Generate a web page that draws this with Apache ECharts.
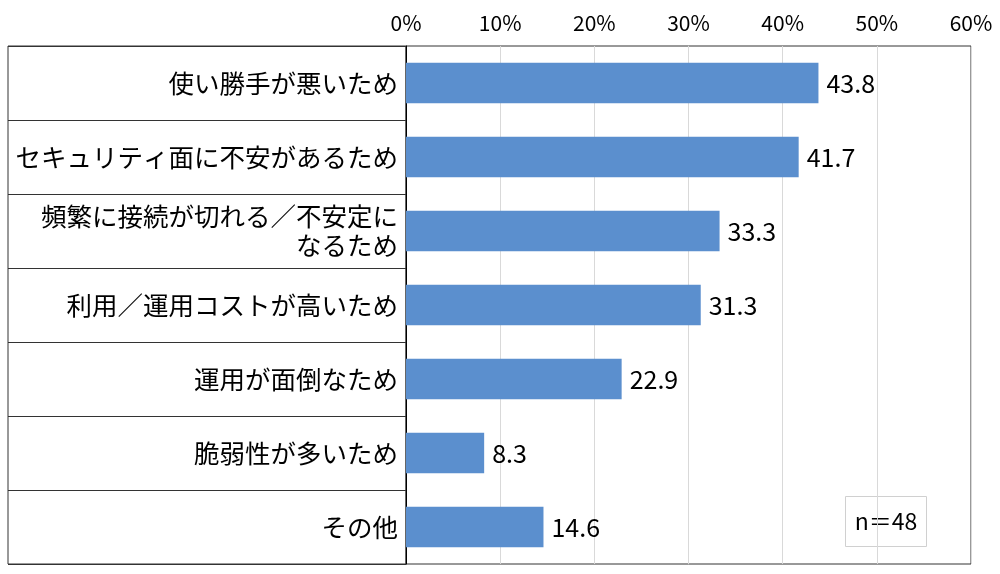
<!DOCTYPE html>
<html>
<head>
<meta charset="utf-8">
<script src="https://cdn.jsdelivr.net/npm/echarts@6/dist/echarts.min.js"></script>
<style>
  html, body { margin: 0; padding: 0; background: #fff; }
  #main { width: 1000px; height: 574px; }
</style>
</head>
<body>
<div id="main"></div>
<script>
var categories = [
  '使い勝手が悪いため',
  'セキュリティ面に不安があるため',
  '頻繁に接続が切れる／不安定に\nなるため',
  '利用／運用コストが高いため',
  '運用が面倒なため',
  '脆弱性が多いため',
  'その他'
];
var values = [43.8, 41.7, 33.3, 31.3, 22.9, 8.3, 14.6];
var axisMax = 60;
var axisStep = 10;
var sampleNote = 'n＝48';

var myChart = echarts.init(document.getElementById('main'));
var font = '"Noto Sans CJK JP", "Noto Sans", sans-serif';

var option = {
  animation: false,
  textStyle: { fontFamily: font },
  grid: [
    { left: 406, right: 29, top: 46, bottom: 10, show: true, borderColor: '#333', borderWidth: 1 },
    { left: 8, width: 398, top: 46, bottom: 10, show: true, borderColor: '#333', borderWidth: 1 }
  ],
  xAxis: [
    {
      gridIndex: 0,
      type: 'value',
      position: 'top',
      min: 0,
      max: axisMax,
      interval: axisStep,
      axisLine: { show: false },
      axisTick: { show: false },
      axisLabel: { formatter: '{value}%', fontSize: 21, color: '#000', margin: 12, fontFamily: font },
      splitLine: { show: true, lineStyle: { color: '#d9d9d9', width: 1 } }
    },
    { gridIndex: 1, type: 'value', show: false }
  ],
  yAxis: [
    {
      gridIndex: 0,
      type: 'category',
      data: categories,
      inverse: true,
      axisLine: { show: true, lineStyle: { color: '#000', width: 1 } },
      axisTick: { show: false },
      axisLabel: { fontSize: 25.5, color: '#000', margin: 8, align: 'right', lineHeight: 29, fontFamily: font },
      splitLine: { show: false }
    },
    {
      gridIndex: 1,
      type: 'category',
      data: categories,
      inverse: true,
      axisLine: { show: false },
      axisTick: { show: false },
      axisLabel: { show: false },
      splitLine: { show: true, lineStyle: { color: '#333', width: 1 } }
    }
  ],
  series: [
    {
      type: 'bar',
      xAxisIndex: 0,
      yAxisIndex: 0,
      data: values,
      barWidth: '55%',
      itemStyle: { color: '#5b8fce' },
      label: {
        show: true,
        position: 'right',
        distance: 8,
        fontSize: 25,
        color: '#000',
        fontFamily: font,
        formatter: function (p) { return p.value.toFixed(1); }
      }
    }
  ],
  graphic: [
    {
      type: 'group',
      left: 845,
      top: 496,
      children: [
        { type: 'rect', shape: { x: 0, y: 0, width: 81, height: 50 }, style: { fill: '#fff', stroke: '#d0d0d0', lineWidth: 1 } },
        { type: 'text', x: 40.5, y: 25, style: { text: sampleNote, fontSize: 23, fill: '#000', align: 'center', verticalAlign: 'middle', fontFamily: font } }
      ]
    }
  ]
};

myChart.setOption(option);
</script>
</body>
</html>
